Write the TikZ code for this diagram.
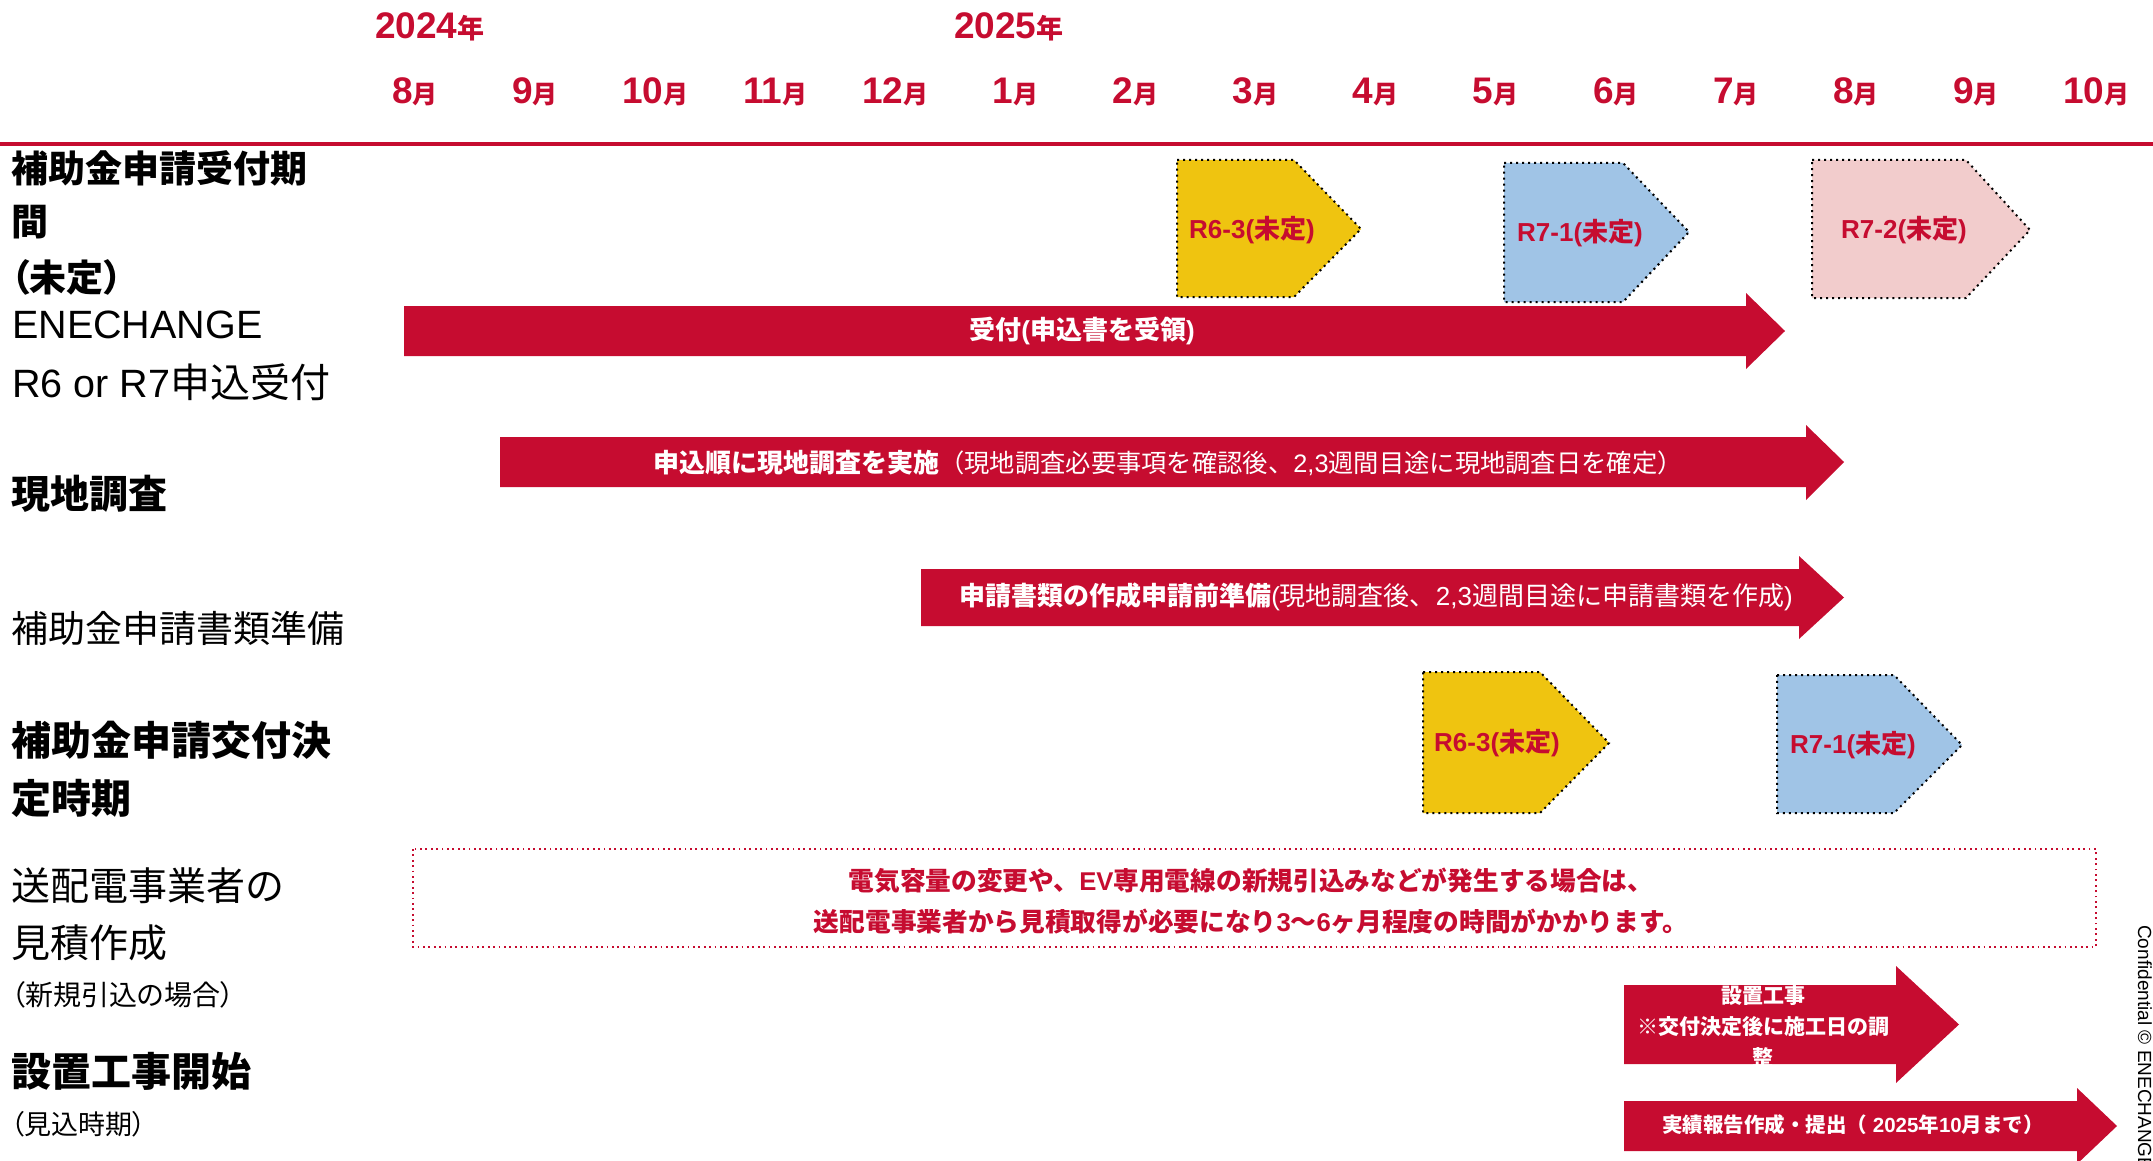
\documentclass[tikz,border=0pt]{standalone}
\usepackage{fontspec}
\setmainfont{Liberation Sans}
\newfontfamily\jp{Noto Sans CJK JP}
\newfontfamily\jpp[RawFeature=+palt]{Noto Sans CJK JP}
\newcommand\J[1]{{\jp #1}}
\newcommand\fs[1]{\fontsize{#1}{#1}\selectfont}
\newcommand\mlabel[1]{{\fs{37}#1}{\jp\fs{25}月}}
\definecolor{ered}{RGB}{198,12,48}
\definecolor{eyel}{RGB}{239,196,16}
\definecolor{eblue}{RGB}{160,196,230}
\definecolor{epink}{RGB}{242,204,204}
\tikzset{
  lbl/.style={anchor=base west, inner sep=0pt, text=black},
  mon/.style={anchor=base, inner sep=0pt, text=ered, font=\bfseries},
  pent/.style={draw=black, line width=2pt, dash pattern=on 2pt off 4pt},
  wtxt/.style={inner sep=0pt, text=white, font=\bfseries},
  rtxt/.style={inner sep=0pt, text=ered, font=\bfseries},
  redarrow/.style={fill=ered},
}
\begin{document}
\begin{tikzpicture}[x=1pt,y=-1pt]
\useasboundingbox (0,0) rectangle (2153,1161);

% header
\node[mon, anchor=base west] (y24) at (375,39) {{\fs{37}2024}{\jp\fs{27}年}};
\node[mon, anchor=base west] (y25) at (954,39) {{\fs{37}2025}{\jp\fs{27}年}};
\foreach \m [count=\i from 0] in {8,9,10,11,12,1,2,3,4,5,6,7,8,9,10}
  \node[mon] (m\i) at ({415+120.08*\i},104) {\mlabel{\m}};
\draw[ered, line width=4pt] (0,144) -- (2153,144);

% left labels
\node[lbl, font=\bfseries\jp\fs{37}] (l1a) at (11,183) {補助金申請受付期};
\node[lbl, font=\bfseries\jp\fs{37}] (l1b) at (11,236) {間};
\node[lbl, font=\bfseries\jpp\fs{37}] (l1c) at (11,291) {（未定）};
\node[lbl, font=\fs{39.5}] (l2a) at (12,338) {ENECHANGE};
\node[lbl, font=\fs{39.5}] (l2b) at (12,397) {R6 or R7{\jp\fs{40}申込受付}};
\node[lbl, font=\bfseries\jp\fs{39}] (l3) at (11,508) {現地調査};
\node[lbl, font=\jp\fs{37}] (l4) at (11,642) {補助金申請書類準備};
\node[lbl, font=\bfseries\jp\fs{40}] (l5a) at (11,755) {補助金申請交付決};
\node[lbl, font=\bfseries\jp\fs{40}] (l5b) at (11,813) {定時期};
\node[lbl, font=\jp\fs{39}] (l6a) at (11,900) {送配電事業者の};
\node[lbl, font=\jp\fs{39}] (l6b) at (11,957) {見積作成};
\node[lbl, font=\jpp\fs{28}] (l6c) at (11,1005) {（新規引込の場合）};
\node[lbl, font=\bfseries\jp\fs{40}] (l7a) at (11,1086) {設置工事開始};
\node[lbl, font=\jpp\fs{27}] (l7b) at (11,1134) {（見込時期）};

% row 1 pentagons
\filldraw[pent, fill=eyel] (1177,160) -- (1294,160) -- (1361,229) -- (1294,297) -- (1177,297) -- cycle;
\filldraw[pent, fill=eblue] (1504,163) -- (1623,163) -- (1689,232) -- (1623,302) -- (1504,302) -- cycle;
\filldraw[pent, fill=epink] (1812,160) -- (1966,160) -- (2030,230) -- (1966,298) -- (1812,298) -- cycle;
\node[rtxt] (p1) at (1252,230) {\fs{26}R6-3(\J{未定})};
\node[rtxt] (p2) at (1580,233) {\fs{26}R7-1(\J{未定})};
\node[rtxt] (p3) at (1904,230) {\fs{26}R7-2(\J{未定})};

% arrows
\fill[redarrow] (404,306) -- (1746,306) -- (1746,293) -- (1785,331) -- (1746,369) -- (1746,356) -- (404,356) -- cycle;
\node[wtxt] (t1) at (1082,331) {\fs{26}\J{受付}(\J{申込書を受領})};

\fill[redarrow] (500,437) -- (1806,437) -- (1806,425) -- (1844,462) -- (1806,500) -- (1806,487) -- (500,487) -- cycle;
\node[wtxt] (t2) at (1168,463) {\fs{26}\J{申込順に現地調査を実施}\mdseries\fs{25.3}\J{（現地調査必要事項を確認後、}2,3\J{週間目途に現地調査日を確定）}};

\fill[redarrow] (921,569) -- (1799,569) -- (1799,556) -- (1844,597.5) -- (1799,639) -- (1799,626) -- (921,626) -- cycle;
\node[wtxt] (t3) at (1376,597) {\fs{26}\J{申請書類の作成申請前準備}\mdseries(\J{現地調査後、}2,3\J{週間目途に申請書類を作成})};

% row 4 pentagons
\filldraw[pent, fill=eyel] (1423,672) -- (1540,672) -- (1609,743) -- (1540,813) -- (1423,813) -- cycle;
\filldraw[pent, fill=eblue] (1777,675) -- (1894,675) -- (1962,745) -- (1894,813) -- (1777,813) -- cycle;
\node[rtxt] (p4) at (1497,743) {\fs{26}R6-3(\J{未定})};
\node[rtxt] (p5) at (1853,745) {\fs{26}R7-1(\J{未定})};

% dotted box
\draw[ered, line width=1.8pt, dash pattern=on 1.8pt off 3.6pt] (413,849) rectangle (2096,947);
\node[rtxt] (bx1) at (1251,881) {\fs{25.7}\J{電気容量の変更や、}EV\J{専用電線の新規引込みなどが発生する場合は、}};
\node[rtxt] (bx2) at (1251,922) {\fs{25.7}\J{送配電事業者から見積取得が必要になり}3\J{〜}6\J{ヶ月程度の時間がかかります。}};

% bottom arrows
\fill[redarrow] (1624,985) -- (1896,985) -- (1896,966) -- (1959,1024.5) -- (1896,1083) -- (1896,1064) -- (1624,1064) -- cycle;
\node[wtxt, align=center, font=\bfseries\jp\fontsize{21}{31}\selectfont] (t4) at (1763,1026) {設置工事\\※交付決定後に施工日の調\\整};

\fill[redarrow] (1624,1101) -- (2077,1101) -- (2077,1088) -- (2117,1126) -- (2077,1164) -- (2077,1151) -- (1624,1151) -- cycle;
\node[wtxt] (t5) at (1853,1125) {\fs{20.5}\J{実績報告作成・提出（} 2025\J{年}10\J{月まで）}};

% confidential
\node[rotate=-90, anchor=west, inner sep=0pt, font=\fs{19}] (conf) at (2145,925) {Confidential © ENECHANGE};
\end{tikzpicture}
\end{document}
